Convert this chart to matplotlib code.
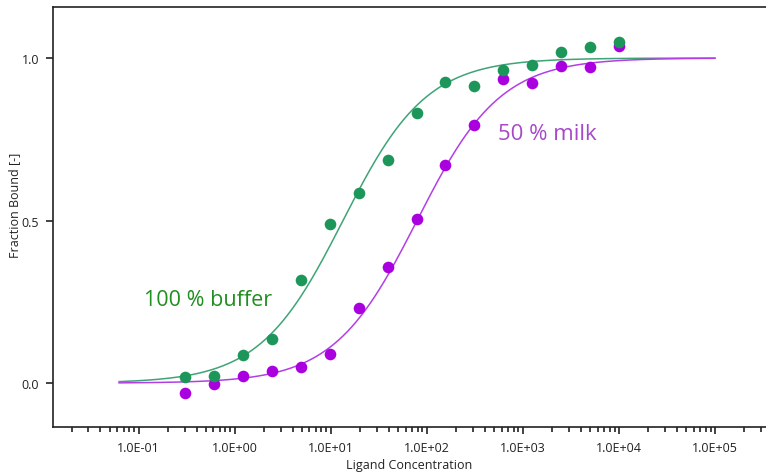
import numpy as np
import matplotlib
matplotlib.use("Agg")
import matplotlib.pyplot as plt
from matplotlib.ticker import LogLocator, FixedLocator, NullFormatter

# Data: 2-fold dilution series of ligand concentration
conc = 10000.0 / 2.0 ** np.arange(15, -1, -1)
buffer_vals = [0.018, 0.022, 0.086, 0.135, 0.317, 0.489, 0.585, 0.686,
               0.831, 0.926, 0.914, 0.963, 0.978, 1.020, 1.034, 1.049]
milk_vals = [-0.029, -0.002, 0.022, 0.036, 0.051, 0.091, 0.230, 0.358,
             0.505, 0.672, 0.795, 0.934, 0.923, 0.974, 0.971, 1.036]
kd_buffer = 13.4
kd_milk = 79.0
fit_range = (0.0625, 1.0e5)
xtick_vals = [1e-1, 1e0, 1e1, 1e2, 1e3, 1e4, 1e5]
xtick_labels = ["1.0E-01", "1.0E+00", "1.0E+01", "1.0E+02", "1.0E+03", "1.0E+04", "1.0E+05"]
ytick_vals = [0.0, 0.5, 1.0]
ytick_labels = ["0.0", "0.5", "1.0"]

green_pt = "#1c9659"
green_ln = "#3ea476"
green_tx = "#1f8f1f"
purple_pt = "#aa00e0"
purple_ln = "#b43ee6"
purple_tx = "#a748c8"

plt.rcParams['font.family'] = ['Open Sans', 'DejaVu Sans']

fig = plt.figure(figsize=(7.66, 4.77), dpi=100)
W, H = 766, 477
ax = fig.add_axes([53 / W, 1 - 428 / H, (766 - 53) / W, (428 - 8) / H])

xs = np.logspace(np.log10(fit_range[0]), np.log10(fit_range[1]), 400)
ax.plot(xs, xs / (kd_buffer + xs), color=green_ln, lw=1.1, zorder=2)
ax.plot(xs, xs / (kd_milk + xs), color=purple_ln, lw=1.1, zorder=2)

ax.scatter(conc, milk_vals, s=70, color=purple_pt, zorder=3, linewidths=0)
ax.scatter(conc, buffer_vals, s=70, color=green_pt, zorder=4, linewidths=0)

ax.set_xscale("log")
ax.set_xlim(10 ** -1.892, 10 ** 5.531)
ax.set_ylim(-0.135, 1.157)

ax.xaxis.set_major_locator(FixedLocator(xtick_vals))
ax.set_xticklabels(xtick_labels)
ax.xaxis.set_minor_locator(LogLocator(base=10, subs=np.arange(2, 10), numticks=20))
ax.xaxis.set_minor_formatter(NullFormatter())
ax.set_yticks(ytick_vals)
ax.set_yticklabels(ytick_labels)

ax.tick_params(axis="both", which="major", direction="out", length=5, width=1.2,
               labelsize=9, colors="#222222", pad=5)
ax.tick_params(axis="x", which="minor", direction="out", length=3.5, width=1.2, colors="#222222")

ax.spines["right"].set_visible(False)
for s in ("left", "bottom", "top"):
    ax.spines[s].set_linewidth(1.2)
    ax.spines[s].set_color("#222222")

ax.set_xlabel("Ligand Concentration", fontsize=9, color="#222222", labelpad=3)
ax.set_ylabel("Fraction Bound [-]", fontsize=9, color="#222222", va="center")
ax.yaxis.set_label_coords(-(53 - 15) / (766 - 53), (428 - 205) / (428 - 8))

ax.text(10 ** (-1 + (144 - 138.7) / 96.05), 0.24, "100 % buffer", color=green_tx,
        fontsize=15.5, ha="left", va="baseline")
ax.text(10 ** (2 + (497.7 - 426.8) / 96.05), 0.75, "50 % milk", color=purple_tx,
        fontsize=16, ha="left", va="baseline")

fig.savefig("out.png", dpi=100)
